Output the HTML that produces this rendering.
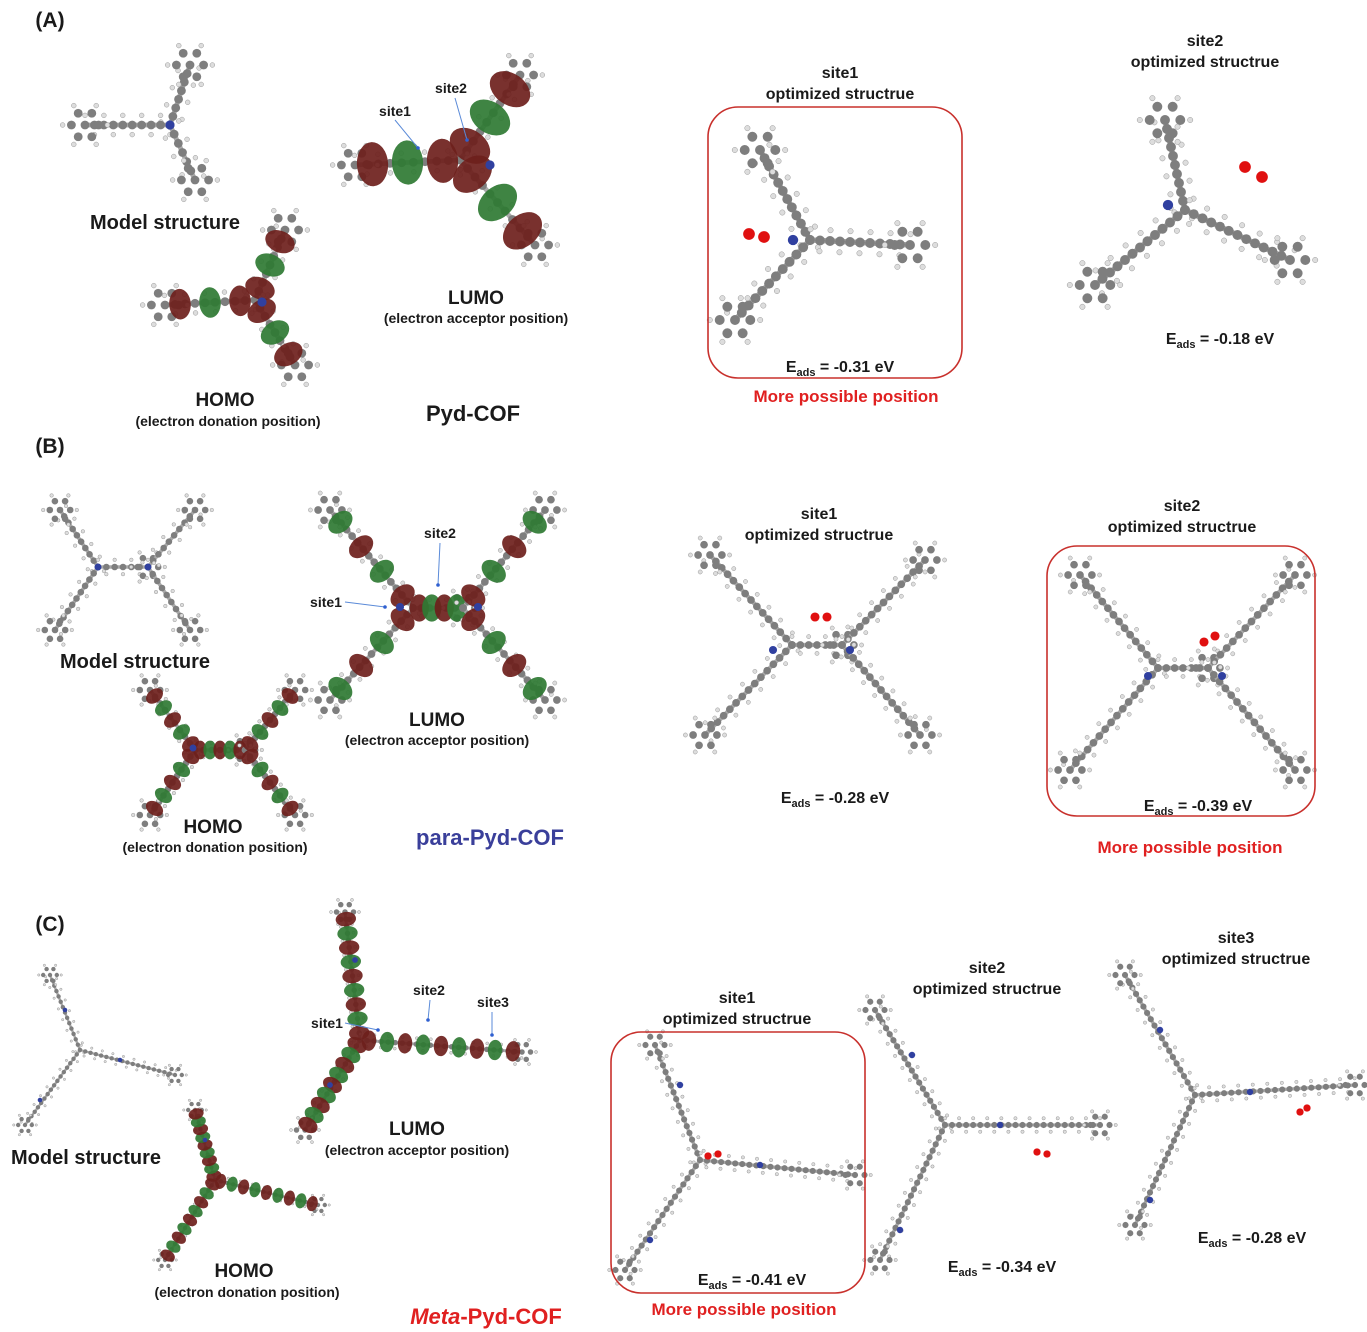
<!DOCTYPE html>
<html><head><meta charset="utf-8"><style>
html,body{margin:0;padding:0;background:#fff;}
svg{display:block;font-family:"Liberation Sans",Arial,sans-serif;}
.t{font-weight:bold;fill:#1a1a1a;text-anchor:middle;}
</style></head><body>
<svg id="s" width="1367" height="1332" viewBox="0 0 1367 1332" xmlns="http://www.w3.org/2000/svg">
<g id="mol"></g>
<g fill="none" stroke="#c8302c" stroke-width="1.6">
<rect x="708" y="107" width="254" height="271" rx="30"/>
<rect x="1047" y="546" width="268" height="270" rx="30"/>
<rect x="611" y="1032" width="254" height="261" rx="30"/>
</g>
<g class="t">
<text x="50" y="27" font-size="21">(A)</text>
<text x="165" y="229" font-size="20">Model structure</text>
<text x="225" y="406" font-size="19">HOMO</text>
<text x="228" y="426" font-size="14">(electron donation position)</text>
<text x="395" y="116" font-size="14">site1</text>
<text x="451" y="93" font-size="14">site2</text>
<text x="476" y="304" font-size="19">LUMO</text>
<text x="476" y="323" font-size="14">(electron acceptor position)</text>
<text x="473" y="421" font-size="22">Pyd-COF</text>
<text x="840" y="78" font-size="16">site1</text>
<text x="840" y="99" font-size="16">optimized structrue</text>
<text x="840" y="372" font-size="16">E<tspan font-size="11" dy="4">ads</tspan><tspan dy="-4"> = -0.31 eV</tspan></text>
<text x="846" y="402" font-size="17" fill="#e02020">More possible position</text>
<text x="1205" y="46" font-size="16">site2</text>
<text x="1205" y="67" font-size="16">optimized structrue</text>
<text x="1220" y="344" font-size="16">E<tspan font-size="11" dy="4">ads</tspan><tspan dy="-4"> = -0.18 eV</tspan></text>

<text x="50" y="453" font-size="21">(B)</text>
<text x="135" y="668" font-size="20">Model structure</text>
<text x="213" y="833" font-size="19">HOMO</text>
<text x="215" y="852" font-size="14">(electron donation position)</text>
<text x="326" y="607" font-size="14">site1</text>
<text x="440" y="538" font-size="14">site2</text>
<text x="437" y="726" font-size="19">LUMO</text>
<text x="437" y="745" font-size="14">(electron acceptor position)</text>
<text x="490" y="845" font-size="22" fill="#3a3f9a">para-Pyd-COF</text>
<text x="819" y="519" font-size="16">site1</text>
<text x="819" y="540" font-size="16">optimized structrue</text>
<text x="835" y="803" font-size="16">E<tspan font-size="11" dy="4">ads</tspan><tspan dy="-4"> = -0.28 eV</tspan></text>
<text x="1182" y="511" font-size="16">site2</text>
<text x="1182" y="532" font-size="16">optimized structrue</text>
<text x="1198" y="811" font-size="16">E<tspan font-size="11" dy="4">ads</tspan><tspan dy="-4"> = -0.39 eV</tspan></text>
<text x="1190" y="853" font-size="17" fill="#e02020">More possible position</text>

<text x="50" y="931" font-size="21">(C)</text>
<text x="86" y="1164" font-size="20">Model structure</text>
<text x="244" y="1277" font-size="19">HOMO</text>
<text x="247" y="1297" font-size="14">(electron donation position)</text>
<text x="327" y="1028" font-size="14">site1</text>
<text x="429" y="995" font-size="14">site2</text>
<text x="493" y="1007" font-size="14">site3</text>
<text x="417" y="1135" font-size="19">LUMO</text>
<text x="417" y="1155" font-size="14">(electron acceptor position)</text>
<text x="486" y="1324" font-size="22" fill="#e02020"><tspan font-style="italic">Meta</tspan>-Pyd-COF</text>
<text x="737" y="1003" font-size="16">site1</text>
<text x="737" y="1024" font-size="16">optimized structrue</text>
<text x="752" y="1285" font-size="16">E<tspan font-size="11" dy="4">ads</tspan><tspan dy="-4"> = -0.41 eV</tspan></text>
<text x="744" y="1315" font-size="17" fill="#e02020">More possible position</text>
<text x="987" y="973" font-size="16">site2</text>
<text x="987" y="994" font-size="16">optimized structrue</text>
<text x="1002" y="1272" font-size="16">E<tspan font-size="11" dy="4">ads</tspan><tspan dy="-4"> = -0.34 eV</tspan></text>
<text x="1236" y="943" font-size="16">site3</text>
<text x="1236" y="964" font-size="16">optimized structrue</text>
<text x="1252" y="1243" font-size="16">E<tspan font-size="11" dy="4">ads</tspan><tspan dy="-4"> = -0.28 eV</tspan></text>
</g>
</svg>
<script>
var g=document.getElementById('mol'),NS='http://www.w3.org/2000/svg';
function el(n,a){var e=document.createElementNS(NS,n);for(var k in a)e.setAttribute(k,a[k]);g.appendChild(e);return e;}
function arm(c,e,sp,r){sp=sp*0.8;var dx=e[0]-c[0],dy=e[1]-c[1],L=Math.hypot(dx,dy),n=Math.max(2,Math.round(L/sp));
 el('line',{x1:c[0],y1:c[1],x2:e[0],y2:e[1],stroke:'#aaa','stroke-width':r*1.2});
 for(var i=0;i<=n;i++){var x=c[0]+dx*i/n,y=c[1]+dy*i/n;
  var px=-dy/L*r*2.4,py=dx/L*r*2.4;
  el('circle',{cx:x+px*(i%2?1:-1),cy:y+py*(i%2?1:-1),r:r*0.6,fill:'#ddd',stroke:'#999','stroke-width':0.5});
  el('circle',{cx:x,cy:y,r:r*1.1,fill:'#7e7e7e'});}
 for(var k=0;k<6;k++){var a=k*Math.PI/3;var rx=e[0]+Math.cos(a)*r*3.4,ry=e[1]+Math.sin(a)*r*3.4;
  el('circle',{cx:rx,cy:ry,r:r*1.1,fill:'#7e7e7e'});
  el('circle',{cx:e[0]+Math.cos(a)*r*5.6,cy:e[1]+Math.sin(a)*r*5.6,r:r*0.6,fill:'#ddd',stroke:'#999','stroke-width':0.5});}
}
function orb(c,e,sz,n){var dx=e[0]-c[0],dy=e[1]-c[1],ang=Math.atan2(dy,dx)*180/Math.PI;
 for(var i=0;i<n;i++){var t=(i+0.5)/n,x=c[0]+dx*t,y=c[1]+dy*t;
  el('ellipse',{cx:x,cy:y,rx:sz*0.85,ry:sz*0.6,fill:i%2?'#2f7a33':'#6e1f1c',transform:'rotate('+(ang+90)+' '+x+' '+y+')',opacity:0.92});}}
function mol(c,ends,sp,r,N,O,orbs){
 ends.forEach(function(e){arm(c,e,sp,r);});
 if(orbs)ends.forEach(function(e){orb(c,e,orbs[0],orbs[1]);});
 (N||[]).forEach(function(p){el('circle',{cx:p[0],cy:p[1],r:r*1.15,fill:'#3040a0'});});
 (O||[]).forEach(function(p){el('circle',{cx:p[0],cy:p[1],r:r*1.3,fill:'#e01010'});});}
mol([170,125],[[190,65],[85,125],[195,180]],12,4,[[170,125]]);
mol([255,300],[[285,230],[165,305],[295,365]],12,4,[[262,302]],null,[18,3]);
mol([460,160],[[520,75],[355,165],[535,245]],14,4,[[490,165]],null,[26,3]);
mol([810,240],[[760,150],[735,320],[910,245]],12,4.5,[[793,240]],[[749,234],[764,237]]);
mol([1185,210],[[1165,120],[1095,285],[1290,260]],12,4.5,[[1168,205]],[[1245,167],[1262,177]]);
function X(c,corn,sp,r,N,O,orbs){mol([c[0]-25,c[1]],[corn[0],corn[2],[c[0]+25,c[1]]],sp,r,null,null,orbs);mol([c[0]+25,c[1]],[corn[1],corn[3]],sp,r,N,O,orbs);}
X([123,567],[[60,510],[195,510],[55,630],[190,630]],10,3,[[98,567],[148,567]]);
X([220,750],[[150,690],[295,690],[150,815],[295,815]],10,3,[[193,748]],null,[11,5]);
X([438,608],[[330,510],[545,510],[330,700],[545,700]],11,3.5,[[400,607],[478,607]],null,[16,4]);
X([817,645],[[710,555],[925,560],[705,735],[920,735]],11,3.5,[[773,650],[850,650]],[[815,617],[827,617]]);
X([1183,668],[[1080,575],[1295,575],[1070,770],[1295,770]],11,3.5,[[1148,676],[1222,676]],[[1204,642],[1215,636]]);
mol([80,1050],[[50,975],[25,1125],[175,1075]],7,2,[[65,1010],[40,1100],[120,1060]]);
mol([215,1180],[[195,1110],[165,1260],[318,1205]],8,2,[[205,1140]],null,[9,9]);
mol([360,1040],[[345,912],[305,1130],[522,1052]],9,2.5,[[355,960],[330,1085]],null,[12,9]);
mol([700,1160],[[655,1045],[625,1270],[855,1175]],9,2.8,[[680,1085],[650,1240],[760,1165]],[[708,1156],[718,1154]]);
mol([945,1125],[[875,1010],[880,1260],[1100,1125]],9,2.8,[[912,1055],[900,1230],[1000,1125]],[[1037,1152],[1047,1154]]);
mol([1195,1095],[[1125,975],[1135,1225],[1355,1085]],9,2.8,[[1160,1030],[1150,1200],[1250,1092]],[[1300,1112],[1307,1108]]);
function ar(x1,y1,x2,y2){el('line',{x1:x1,y1:y1,x2:x2,y2:y2,stroke:'#5a8ad8','stroke-width':1});el('circle',{cx:x2,cy:y2,r:1.8,fill:'#3060d0'});}
ar(395,120,418,148);ar(455,98,467,140);ar(345,602,385,607);ar(440,543,438,585);ar(345,1023,378,1030);ar(430,1000,428,1020);ar(492,1012,492,1035);
</script>
</body></html>
